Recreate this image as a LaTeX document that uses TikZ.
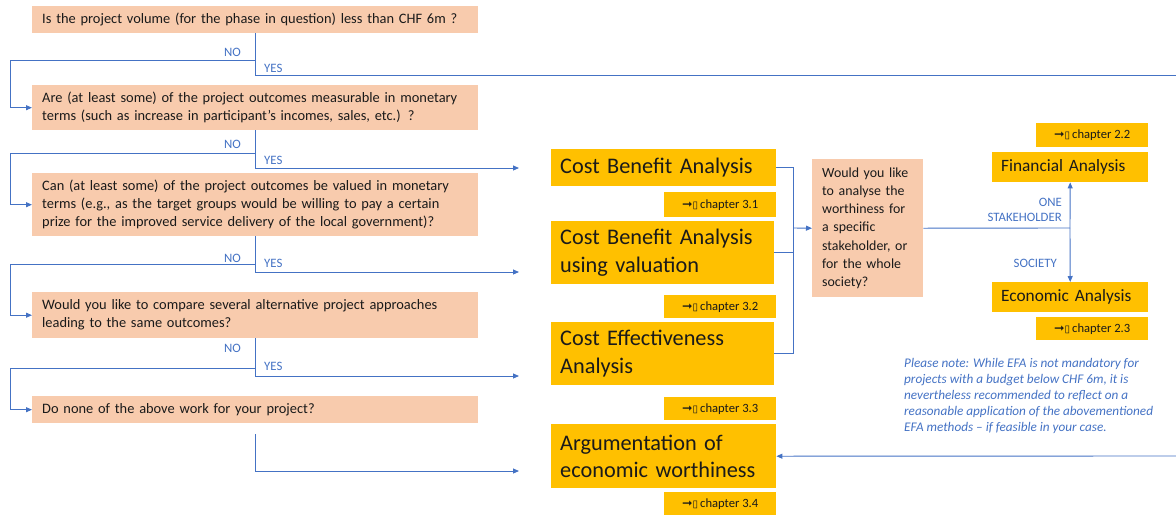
\documentclass[tikz,border=0pt]{standalone}
\usepackage{fontspec}
\setmainfont{Carlito}
\newfontfamily\symfont{DejaVu Sans}
\usetikzlibrary{arrows.meta}
\definecolor{peach}{HTML}{F8CBAD}
\definecolor{amber}{HTML}{FFC000}
\definecolor{linkblue}{HTML}{4472C4}
\definecolor{ink}{HTML}{1A1A1A}
\newcommand{\chapref}[1]{{\symfont\bfseries\fontsize{12.5}{12.5}\selectfont ➞}{\symfont\fontsize{10}{10}\selectfont ▯}\,chapter #1}
\begin{document}
\begin{tikzpicture}[x=1pt,y=-1pt,
  question/.style={fill=peach, anchor=north west, inner xsep=10pt, inner ysep=0pt,
    align=left, text=ink, font=\fontsize{14.4}{18}\selectfont},
  method/.style={fill=amber, anchor=north west, inner xsep=9pt, inner ysep=0pt,
    align=left, text=ink, font=\fontsize{22.3}{27.5}\selectfont},
  result/.style={fill=amber, anchor=north west, inner xsep=9pt, inner ysep=0pt,
    align=left, text=ink, font=\fontsize{17.3}{19}\selectfont},
  chapbox/.style={fill=amber, anchor=north west, inner sep=0pt, minimum width=112pt,
    align=center, text=ink, font=\fontsize{12.6}{13}\selectfont},
  flow/.style={draw=linkblue, line width=0.9pt},
  arr/.style={flow, -{Triangle[length=6pt,width=5pt]}},
  tag/.style={text=linkblue, font=\fontsize{12.8}{14}\selectfont, inner sep=0pt}]
\useasboundingbox (0,0) rectangle (1176,515);

% decision questions
\node[question, text width=426pt, minimum height=27pt] (q1) at (32,6)
  {Is the project volume (for the phase in question) less than CHF 6m ?};
\node[question, text width=426pt, minimum height=45pt] (q2) at (32,85)
  {Are (at least some) of the project outcomes measurable in monetary\\terms (such as increase in participant’s incomes, sales, etc.) ?};
\node[question, text width=426pt, minimum height=63pt] (q3) at (32,173)
  {Can (at least some) of the project outcomes be valued in monetary\\terms (e.g., as the target groups would be willing to pay a certain\\prize for the improved service delivery of the local government)?};
\node[question, text width=426pt, minimum height=46pt] (q4) at (32,292)
  {Would you like to compare several alternative project approaches\\leading to the same outcomes?};
\node[question, text width=426pt, minimum height=27pt] (q5) at (32,396)
  {Do none of the above work for your project?};

% analysis methods
\node[method, text width=207pt, minimum height=37pt] (cba) at (551,149) {Cost Benefit Analysis};
\node[chapbox, minimum height=25pt] (c31) at (664,192) {\chapref{3.1}};
\node[method, text width=205pt, minimum height=63pt] (cbav) at (551,221) {Cost Benefit Analysis\\using valuation};
\node[chapbox, minimum height=23pt] (c32) at (664,295) {\chapref{3.2}};
\node[method, text width=205pt, minimum height=63pt] (cea) at (551,322) {Cost Effectiveness\\Analysis};
\node[chapbox, minimum height=23pt] (c33) at (664,397) {\chapref{3.3}};
\node[method, text width=207pt, minimum height=64pt] (arg) at (551,424) {Argumentation of\\economic worthiness};
\node[chapbox, minimum height=23pt] (c34) at (664,492) {\chapref{3.4}};

% stakeholder question and its outcomes
\node[question, inner xsep=10pt, text width=91pt, minimum height=138pt,
  font=\fontsize{13.9}{18.3}\selectfont] (dq) at (812,159)
  {Would you like\\to analyse the\\worthiness for\\a specific\\stakeholder, or\\for the whole\\society?};
\node[chapbox, minimum height=24pt] (c22) at (1036,123) {\chapref{2.2}};
\node[result, text width=138pt, minimum height=30pt] (fa) at (992,152) {Financial Analysis};
\node[result, text width=138pt, minimum height=30pt] (ea) at (992,282) {Economic Analysis};
\node[chapbox, minimum height=23pt] (c23) at (1036,317) {\chapref{2.3}};

% note
\node[anchor=north west, inner sep=0pt, align=left, text=linkblue,
  font=\fontsize{13.2}{16}\selectfont\itshape] (note) at (904,358)
  {Please note: While EFA is not mandatory for\\projects with a budget below CHF 6m, it is\\nevertheless recommended to reflect on a\\reasonable application of the abovementioned\\EFA methods – if feasible in your case.};

% free ends and junctions
\coordinate (edgeTop) at (1176,75);
\coordinate (edgeBot) at (1176,456);
\coordinate (to1) at (519,168);
\coordinate (to2) at (519,272);
\coordinate (to3) at (519,376);
\coordinate (to4) at (519,471);
\coordinate (q5out) at (255,434);
\coordinate (join) at (793,228);
\coordinate (split) at (1070,228);

% question 1
\draw[arr] (q1.south) |- (10,60) |- (q2.west);
\draw[flow] (q1.south) |- (edgeTop);
\node[tag, anchor=base east] (no1) at (241,56) {NO};
\node[tag, anchor=base west] (yes1) at (264,72) {YES};
% question 2
\draw[arr] (q2.south) |- (10,153) |- (q3.west);
\draw[arr] (q2.south) |- (to1);
\node[tag, anchor=base east] (no2) at (241,148) {NO};
\node[tag, anchor=base west] (yes2) at (264,164) {YES};
% question 3
\draw[arr] (q3.south) |- (10,264) |- (q4.west);
\draw[arr] (q3.south) |- (to2);
\node[tag, anchor=base east] (no3) at (241,262) {NO};
\node[tag, anchor=base west] (yes3) at (264,267) {YES};
% question 4
\draw[arr] (q4.south) |- (10,368) |- (q5.west);
\draw[arr] (q4.south) |- (to3);
\node[tag, anchor=base east] (no4) at (241,352) {NO};
\node[tag, anchor=base west] (yes4) at (264,370) {YES};
% question 5
\draw[arr] (q5out) |- (to4);

% methods into the stakeholder question
\draw[flow] (cba.east) -| (join);
\draw[flow] (cbav.east) -| (join);
\draw[flow] (cea.east) -| (join);
\draw[arr] (join) -- (dq.west);

% stakeholder split
\draw[flow] (dq.east) -- (split);
\draw[arr] (split) -- (fa.south);
\draw[arr] (split) -- (ea.north);
\node[tag, anchor=east, align=right, font=\fontsize{12.8}{15.5}\selectfont] (one) at (1062,210) {ONE\\STAKEHOLDER};
\node[tag, anchor=base east] (soc) at (1057,267) {SOCIETY};

% small projects route
\draw[arr] (edgeBot) -- (arg.east);
\end{tikzpicture}
\end{document}
